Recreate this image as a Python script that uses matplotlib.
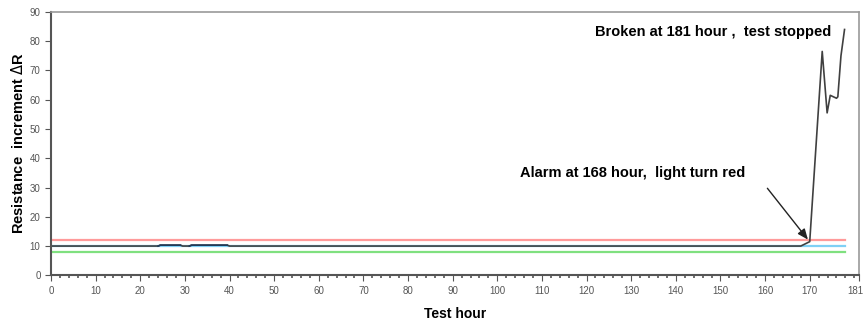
import numpy as np
from matplotlib import pyplot as plt
from matplotlib.ticker import MultipleLocator
from matplotlib.transforms import ScaledTranslation

plt.rcParams['font.family'] = ['Liberation Sans', 'DejaVu Sans']

# measured resistance increment (hours, value)
hours = [0, 24, 24.5, 29, 29.5, 31, 31.5, 39.5, 40, 168, 170, 172.8, 173.9, 174.6, 176, 176.3, 177, 177.8]
delta_r = [10, 10, 10.3, 10.3, 10, 10, 10.3, 10.3, 10, 10, 11.5, 76.5, 55.5, 61.5, 60.5, 61, 75, 84]

# limit lines
red_limit = 12.2
blue_level = 10.0
green_limit = 8.0
limit_end = 177.8

x_ticks = [0, 10, 20, 30, 40, 50, 60, 70, 80, 90, 100, 110, 120, 130, 140, 150, 160, 170, 181]
y_ticks = [0, 10, 20, 30, 40, 50, 60, 70, 80, 90]


def main():
    fig = plt.figure(figsize=(8.64, 3.22), dpi=100)
    ax = fig.add_axes([0.059, 0.145, 0.935, 0.818])

    ax.plot([0, limit_end], [red_limit, red_limit], color='#ff9a9a', lw=1.6)
    ax.plot([0, limit_end], [blue_level, blue_level], color='#7fd0f5', lw=1.6)
    ax.plot([0, limit_end], [green_limit, green_limit], color='#7fe07f', lw=1.6)
    ax.plot(hours, delta_r, color='#404040', lw=1.2)
    # darker segments of the recorded curve
    ax.plot(hours[1:4], delta_r[1:4], color='#1f3a5a', lw=1.2)
    ax.plot(hours[5:8], delta_r[5:8], color='#1f3a5a', lw=1.2)

    ax.set_xlim(0, 181)
    ax.set_ylim(0, 90)
    ax.set_xticks(x_ticks)
    ax.set_yticks(y_ticks)
    ax.xaxis.set_minor_locator(MultipleLocator(2))
    ax.tick_params(axis='both', which='major', labelsize=7, colors='#555555',
                   length=4, direction='out')
    ax.tick_params(axis='x', which='minor', length=2, width=1.2, color='#555555')

    # keep the last label ("181") inside the picture
    last = ax.get_xticklabels()[-1]
    last.set_transform(last.get_transform() + ScaledTranslation(-0.03, 0, fig.dpi_scale_trans))

    for side in ['left', 'bottom']:
        ax.spines[side].set_color('#555555')
        ax.spines[side].set_linewidth(1.5)
    for side in ['top', 'right']:
        ax.spines[side].set_color('#999999')
        ax.spines[side].set_linewidth(1.2)

    ax.set_xlabel('Test hour', fontsize=10, fontweight='bold', labelpad=8)
    ax.set_ylabel('Resistance  increment $\\Delta$R', fontsize=10.5, fontweight='bold', labelpad=3)

    ax.text(122, 83, 'Broken at 181 hour ,  test stopped', fontsize=10.5, fontweight='bold',
            va='center', ha='left')
    ax.annotate('Alarm at 168 hour,  light turn red', xy=(169.6, 12.2), xytext=(105, 35),
                fontsize=10.5, fontweight='bold', va='center', ha='left',
                arrowprops=dict(arrowstyle='-|>,head_length=0.6,head_width=0.25', color='#222222', lw=1,
                                shrinkA=0, shrinkB=0, relpos=(1.1, -0.6)))

    plt.savefig('out.png', dpi=100)


if __name__ == "__main__":
    main()
